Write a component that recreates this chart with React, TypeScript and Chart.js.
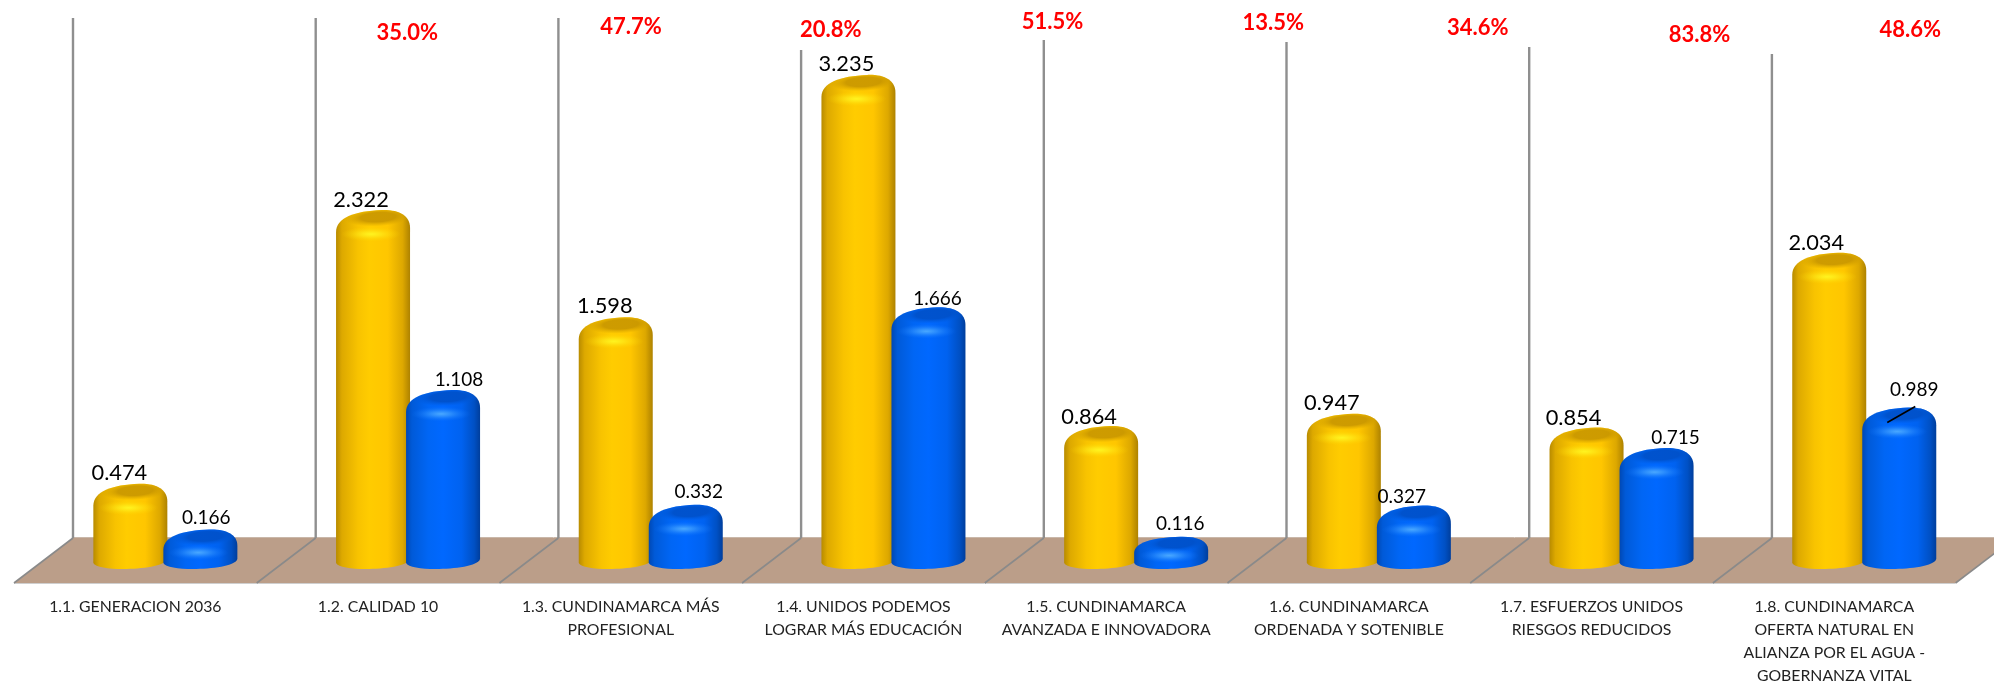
import React, { useEffect, useRef } from "react";
import { Chart, registerables } from "chart.js";

Chart.register(...registerables);

const categories: (string | string[])[] = [
  "1.1. GENERACION 2036",
  "1.2. CALIDAD 10",
  ["1.3. CUNDINAMARCA MÁS", "PROFESIONAL"],
  ["1.4. UNIDOS PODEMOS", "LOGRAR MÁS EDUCACIÓN"],
  ["1.5. CUNDINAMARCA", "AVANZADA E INNOVADORA"],
  ["1.6. CUNDINAMARCA", "ORDENADA Y SOTENIBLE"],
  ["1.7. ESFUERZOS UNIDOS", "RIESGOS REDUCIDOS"],
  ["1.8. CUNDINAMARCA", "OFERTA NATURAL EN", "ALIANZA POR EL AGUA -", "GOBERNANZA VITAL"],
];
const yellowValues = [0.474, 2.322, 1.598, 3.235, 0.864, 0.947, 0.854, 2.034];
const blueValues = [0.166, 1.108, 0.332, 1.666, 0.116, 0.327, 0.715, 0.989];
const percentLabels = ["35.0%", "47.7%", "20.8%", "51.5%", "13.5%", "34.6%", "83.8%", "48.6%"];

// layout helpers (pixels)
const DEPTH_X = 59;
const BAR_SHIFT = 30;
const FLOOR_BACK_Y = 538;
const FLOOR_FRONT_Y = 583;
const wallTops = [18, 18, 18, 50, 40, 42, 47, 54];
const percentOffsetX = [272, 253, 210, 189, 167, 129, 108, 76];
const percentY = [33, 27, 30, 22, 23, 28, 35, 30];
const yellowLabelOffset = [[-11, -11], [-12, -10], [-11, -11], [-12, -11], [-12, -9], [-12, -11], [-13, -10], [-13, -10]];
const blueLabelOffset = [[6, -12], [16, -10], [13, -13], [9, -8], [9, -13], [-12, -9], [19, -10], [15, -18]];

const FONT = "Lato, Carlito, Calibri, sans-serif";

const palettes = [
  {
    body: [[0, "#B88B00"], [0.08, "#DDA900"], [0.3, "#F8C300"], [0.45, "#FFCC00"], [0.7, "#FFC600"], [0.9, "#DDA800"], [1, "#AE8200"]],
    cap: "rgba(200,150,0,0.9)",
    capEdge: "rgba(214,162,0,0)",
    shine: "rgba(255,242,30,1)",
    shineEdge: "rgba(255,215,0,0)",
  },
  {
    body: [[0, "#0048B4"], [0.08, "#005AD8"], [0.3, "#0066F5"], [0.5, "#0068FF"], [0.75, "#0062F0"], [0.92, "#0050C4"], [1, "#003E9C"]],
    cap: "rgba(0,80,200,0.9)",
    capEdge: "rgba(0,90,220,0)",
    shine: "rgba(70,165,255,1)",
    shineEdge: "rgba(20,120,255,0)",
  },
] as const;

function cylinderPath(ctx: CanvasRenderingContext2D, x0: number, x1: number, top: number, bot: number) {
  const w = x1 - x0;
  const h = bot - top;
  const dome = Math.min(22, h * 0.52);
  ctx.beginPath();
  ctx.moveTo(x0, bot - 5);
  ctx.lineTo(x0, top + dome);
  ctx.bezierCurveTo(x0, top + dome * 0.35, x0 + w * 0.25, top + 1, x0 + w * 0.62, top);
  ctx.bezierCurveTo(x0 + w * 0.85, top - 0.5, x1, top + dome * 0.25, x1, top + dome * 0.8);
  ctx.lineTo(x1, bot - 9);
  ctx.bezierCurveTo(x1 - 2, bot - 2, x0 + w * 0.65, bot + 1, x0 + w * 0.4, bot + 1);
  ctx.bezierCurveTo(x0 + w * 0.2, bot + 1, x0 + 2, bot - 1, x0, bot - 5);
  ctx.closePath();
}

function drawCylinder(ctx: CanvasRenderingContext2D, cx: number, top: number, bot: number, kind: number) {
  const p = palettes[kind];
  const half = 37;
  const x0 = cx - half;
  const x1 = cx + half;
  const h = bot - top;
  ctx.save();
  cylinderPath(ctx, x0, x1, top, bot);
  const g = ctx.createLinearGradient(x0, 0, x1, 0);
  p.body.forEach(([s, c]) => g.addColorStop(s as number, c as string));
  ctx.fillStyle = g;
  ctx.fill();
  ctx.clip();

  // darker upper face
  const capY = top + Math.min(7, h * 0.2);
  ctx.save();
  ctx.translate(cx + 5, capY);
  ctx.rotate(-0.05);
  ctx.scale(1, 0.27);
  const rg = ctx.createRadialGradient(0, 0, 4, 0, 0, 34);
  rg.addColorStop(0, p.cap);
  rg.addColorStop(0.45, p.cap);
  rg.addColorStop(1, p.capEdge);
  ctx.fillStyle = rg;
  ctx.beginPath();
  ctx.arc(0, 0, 34, 0, Math.PI * 2);
  ctx.fill();
  ctx.restore();

  // shine under the lip
  const shineY = top + Math.min(24, h * 0.6);
  ctx.save();
  ctx.translate(cx - 2, shineY);
  ctx.scale(1, 0.25);
  const sg = ctx.createRadialGradient(0, 0, 1, 0, 0, 30);
  sg.addColorStop(0, p.shine);
  sg.addColorStop(0.35, p.shine.replace(/,1\)$/, ",0.55)"));
  sg.addColorStop(1, p.shineEdge);
  ctx.fillStyle = sg;
  ctx.beginPath();
  ctx.arc(0, 0, 30, 0, Math.PI * 2);
  ctx.fill();
  ctx.restore();
  ctx.restore();
}

const stagePlugin = {
  id: "stage",
  beforeDatasetsDraw(chart: any) {
    const { ctx } = chart;
    const x = chart.scales.x;
    const cw = x.getPixelForValue(1) - x.getPixelForValue(0);
    const left = x.getPixelForValue(0) - cw / 2;
    const right = left + cw * categories.length;
    ctx.save();
    ctx.fillStyle = "#BB9E89";
    ctx.beginPath();
    ctx.moveTo(left, FLOOR_FRONT_Y);
    ctx.lineTo(left + DEPTH_X, FLOOR_BACK_Y);
    ctx.lineTo(right + DEPTH_X, FLOOR_BACK_Y);
    ctx.lineTo(right, FLOOR_FRONT_Y);
    ctx.closePath();
    ctx.fill();
    ctx.strokeStyle = "#CFCFCF";
    ctx.lineWidth = 1;
    ctx.beginPath();
    ctx.moveTo(left, FLOOR_FRONT_Y + 0.5);
    ctx.lineTo(right, FLOOR_FRONT_Y + 0.5);
    ctx.stroke();
    ctx.strokeStyle = "#C9B7A9";
    ctx.beginPath();
    ctx.moveTo(left + DEPTH_X, FLOOR_BACK_Y - 0.5);
    ctx.lineTo(right + DEPTH_X, FLOOR_BACK_Y - 0.5);
    ctx.stroke();
    for (let i = 0; i <= categories.length; i++) {
      const fx = left + cw * i;
      ctx.strokeStyle = "#8A8A8A";
      ctx.lineWidth = 1.6;
      ctx.beginPath();
      ctx.moveTo(fx, FLOOR_FRONT_Y);
      ctx.lineTo(fx + DEPTH_X, FLOOR_BACK_Y);
      ctx.stroke();
      if (i < categories.length) {
        ctx.strokeStyle = "#8F8F8F";
        ctx.lineWidth = 2.4;
        ctx.beginPath();
        ctx.moveTo(fx + DEPTH_X, FLOOR_BACK_Y);
        ctx.lineTo(fx + DEPTH_X, wallTops[i]);
        ctx.stroke();
      }
    }
    ctx.restore();
  },
  // the library would paint plain rectangles; the cylinders are painted below, yellow first
  beforeDatasetDraw() {
    return false;
  },
  afterDatasetsDraw(chart: any) {
    const { ctx } = chart;
    const x = chart.scales.x;
    [0, 1].forEach((ds) => {
      chart.getDatasetMeta(ds).data.forEach((bar: any) => {
        const props = bar.getProps(["x", "y", "base"], true);
        drawCylinder(ctx, props.x + BAR_SHIFT, props.y, props.base, ds);
      });
    });
    ctx.save();
    ctx.textAlign = "center";
    ctx.textBaseline = "middle";
    [yellowValues, blueValues].forEach((vals, ds) => {
      const meta = chart.getDatasetMeta(ds);
      ctx.font = ds === 0 ? `21.8px ${FONT}` : `19px ${FONT}`;
      ctx.fillStyle = "#000";
      vals.forEach((v, i) => {
        const b = meta.data[i];
        const off = (ds === 0 ? yellowLabelOffset : blueLabelOffset)[i];
        ctx.fillText(v.toFixed(3), b.x + BAR_SHIFT + off[0], b.y + off[1]);
      });
    });
    // leader line of the last blue label
    const last = chart.getDatasetMeta(1).data[7];
    ctx.strokeStyle = "#000";
    ctx.lineWidth = 1.6;
    ctx.beginPath();
    ctx.moveTo(last.x + BAR_SHIFT - 12, last.y + 15);
    ctx.lineTo(last.x + BAR_SHIFT + 16, last.y - 1);
    ctx.stroke();

    ctx.font = `bold 22px ${FONT}`;
    ctx.fillStyle = "#FF0000";
    percentLabels.forEach((t, i) => {
      ctx.fillText(t, x.getPixelForValue(i) + percentOffsetX[i], percentY[i]);
    });
    ctx.restore();
  },
};

export default function App() {
  const ref = useRef<HTMLCanvasElement>(null);
  useEffect(() => {
    if (!ref.current) return;
    const chart = new Chart(ref.current, {
      type: "bar",
      data: {
        labels: categories as any,
        datasets: [
          { label: "Serie 1", data: yellowValues, backgroundColor: "#FFC800", base: -0.0945 } as any,
          { label: "Serie 2", data: blueValues, backgroundColor: "#0066FF", base: -0.0945 } as any,
        ],
      },
      options: {
        animation: false,
        responsive: false,
        maintainAspectRatio: false,
        layout: { padding: { left: 14, right: 38.4, top: 0, bottom: 0 } },
        datasets: { bar: { categoryPercentage: 0.577, barPercentage: 1 } },
        plugins: { legend: { display: false }, tooltip: { enabled: false }, title: { display: false } },
        scales: {
          x: {
            afterFit: (s: any) => {
              s.height = 100;
            },
            grid: { display: false, drawTicks: false },
            border: { display: false },
            ticks: {
              autoSkip: false,
              maxRotation: 0,
              minRotation: 0,
              padding: 13,
              color: "#222222",
              font: { family: FONT, size: 15.8, lineHeight: 1.44 },
            },
          },
          y: { display: false, min: -0.1958, max: 3.7407 },
        },
      } as any,
      plugins: [stagePlugin as any],
    });
    return () => chart.destroy();
  }, []);
  return (
    <div style={{ position: "fixed", left: 0, top: 0, width: 1994, height: 683, background: "#fff" }}>
      <canvas ref={ref} width={1994} height={683} style={{ display: "block" }} />
    </div>
  );
}
